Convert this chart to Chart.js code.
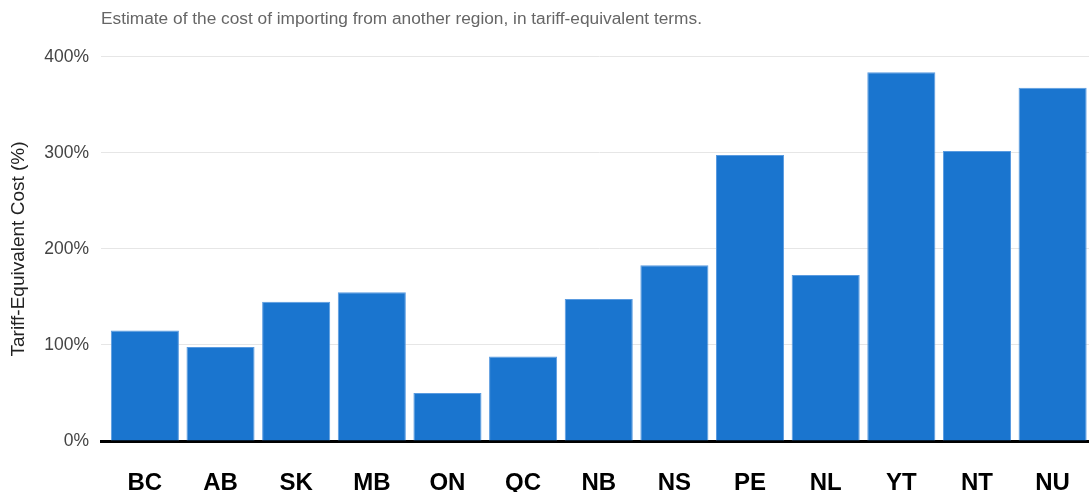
<!DOCTYPE html>
<html>
<head>
<meta charset="utf-8">
<script src="https://cdn.jsdelivr.net/npm/chart.js@4/dist/chart.umd.min.js"></script>
<style>
  html, body { margin: 0; padding: 0; background: #fff; overflow: hidden; }
  #frame { width: 1089px; height: 492px; overflow: hidden; }
  #wrap { width: 1098px; height: 492px; position: relative; }
</style>
</head>
<body>
<div id="frame"><div id="wrap"><canvas id="costChart"></canvas></div></div>
<script>
// Interprovincial trade cost, tariff-equivalent %
const provinces = ['BC', 'AB', 'SK', 'MB', 'ON', 'QC', 'NB', 'NS', 'PE', 'NL', 'YT', 'NT', 'NU'];
const costPct = [115, 98, 145, 155, 50, 88, 148, 183, 298, 173, 384, 302, 368];
const yTicks = [0, 100, 200, 300, 400];

const FONT = "'Liberation Sans', Arial, sans-serif";

// bars sit at positions 1..n on a numeric axis so the ends can be padded past half a slot
const points = costPct.map((v, i) => ({ x: i + 1, y: v }));

new Chart(document.getElementById('costChart'), {
    type: 'bar',
    data: {
        datasets: [{
            data: points,
            backgroundColor: '#1a75cf',
            borderColor: '#5a9be0',
            borderWidth: 1,
            barPercentage: 0.9,
            categoryPercentage: 1.0,
        }]
    },
    options: {
        responsive: true,
        maintainAspectRatio: false,
        animation: false,
        layout: { padding: { top: 4, right: 0, bottom: 0, left: 0 } },
        plugins: {
            legend: { display: false },
            tooltip: { enabled: false },
            title: {
                display: true,
                text: 'Estimate of the cost of importing from another region, in tariff-equivalent terms.',
                align: 'start',
                fullSize: false,
                color: '#666',
                font: { family: FONT, size: 17.3, weight: 'normal' },
                padding: { top: 5, bottom: 27.2 }
            }
        },
        scales: {
            x: {
                type: 'linear',
                min: 0.42,
                max: provinces.length + 0.6,
                offset: false,
                afterBuildTicks: axis => { axis.ticks = provinces.map((_, i) => ({ value: i + 1 })); },
                afterFit: axis => { axis.height = 51; },
                grid: { display: false },
                border: { color: '#000', width: 3 },
                ticks: {
                    color: '#000',
                    padding: 20,
                    autoSkip: false,
                    maxRotation: 0,
                    font: { family: FONT, size: 24, weight: 'bold' },
                    callback: v => provinces[v - 1]
                }
            },
            y: {
                min: 0,
                max: 400,
                afterBuildTicks: axis => { axis.ticks = yTicks.map(v => ({ value: v })); },
                afterFit: axis => { axis.width = 101; },
                grid: { color: '#e6e6e6', lineWidth: 1, drawTicks: false },
                border: { display: false },
                ticks: {
                    color: '#444',
                    padding: 12,
                    font: { family: FONT, size: 17.5 },
                    callback: v => v + '%'
                },
                title: {
                    display: true,
                    text: 'Tariff-Equivalent Cost (%)',
                    color: '#222',
                    font: { family: FONT, size: 19 },
                    padding: { top: 7, bottom: 4 }
                }
            }
        }
    }
});
</script>
</body>
</html>
